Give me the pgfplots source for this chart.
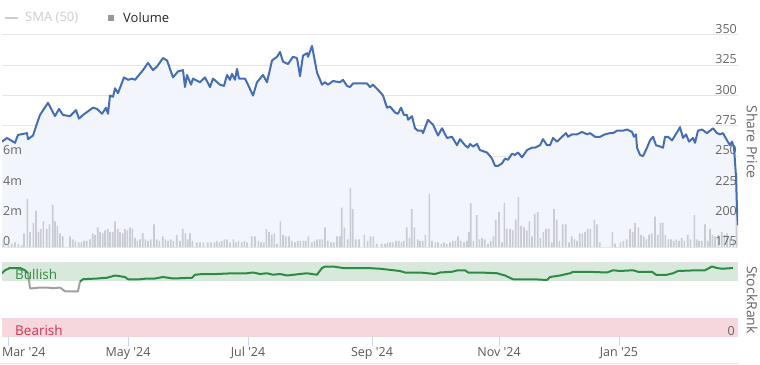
\documentclass[border=0pt]{standalone}
\usepackage{fontspec}
\setmainfont{Open Sans}
\usepackage{pgfplots}
\usepackage{pgfplotstable}
\pgfplotsset{compat=1.18}
\definecolor{priceblue}{RGB}{69,110,180}
\definecolor{pricefill}{RGB}{243,245,252}
\definecolor{gridc}{RGB}{230,230,230}
\definecolor{volc}{RGB}{203,204,211}
\definecolor{rankgreen}{RGB}{46,139,69}
\definecolor{rankgrey}{RGB}{160,160,160}
\definecolor{bullband}{RGB}{214,233,218}
\definecolor{bearband}{RGB}{245,215,221}
\definecolor{beartext}{RGB}{214,50,82}
\definecolor{bulltext}{RGB}{58,138,70}
\definecolor{labc}{RGB}{102,102,102}
\definecolor{smac}{RGB}{204,204,204}
\definecolor{tickc}{RGB}{204,214,235}

% x = horizontal position along the time axis (Mar '24 tick at 8, Jan '25 tick at 619)
\pgfplotstableread{
x p
2 262
7 265
15 261
18 267.5
27 269
28 264
33 267
37 277
40 284
48 294
55 283
59 289
63 284
70 283
76 288
79 281
83 284
93 290
97 289
102 285
106 290
108 285
110 300
113 299
115 306
118 302
124 315
128 313
132 314
135 313
143 321
148 327
153 321
157 324
163 331
167 329
173 315
178 320
183 321
185 307
187 317
191 309
193 314
200 311
205 315
210 307
213 314
220 309
224 308
227 317
230 313
232 318
235 313
237 322
239 314
245 314
248 309
253 300
257 311
263 317
267 311
272 329
277 332
280 336
283 328
288 326
293 332
297 331
300 316
303 333
307 335
308 332
312 341
317 319
322 309
325 311
328 309
333 312
340 311
343 313
347 308
350 307
353 310
360 310
367 310
370 307
373 309
380 303
383 300
387 290
390 291
395 286
398 285
401 290
404 284
407 284
408 280
412 283
415 273
418 271
422 271
423 269
428 280
433 276
438 267
442 273
447 265
452 266
457 259
460 264
465 259
468 257
470 260
473 258
477 260
480 255
487 253
492 248
495 242
498 242
502 244
505 248
508 247
512 252
515 251
518 253
522 249
527 255
532 257
535 257
540 259
543 264
547 259
550 259
553 265
557 262
562 266
566 269
568 266
572 268
577 268
582 270
587 268
590 269
595 266
600 266
605 268
610 269
613 269
617 271
623 271
627 272
632 270
634 266
636 268
637 257
640 251
643 250
647 257
650 263
653 266
656 259
660 258
663 257
665 266
668 266
672 263
675 267
678 271
680 274
683 265
686 268
689 262
693 265
695 261
698 271
702 272
707 269
713 273
717 269
720 268
723 269
727 263
730 259
732 262
734 257
736 233
737 206
738 193
}\pricetable

\pgfplotstableread{
x v
3.5 0.5
8.3 0.2
11.7 0.2
15 0.3
18.3 0.2
21.7 0.1
24 0.9
27.3 3.2
30 1.0
33.3 1.6
36 2.4
38.3 1.0
40.7 1.2
43.3 1.7
46.7 1.2
49.3 1.5
52.7 2.8
55 1.7
57.3 1.4
60 0.9
62.7 0.7
70 0.7
72.7 0.5
75.3 0.4
78.7 0.3
81.3 0.3
84 0.4
86.7 0.4
90 0.5
92.7 0.9
95 0.8
97.7 1.3
100 1.0
102.7 0.9
105 1.1
107.7 1.2
110 1.0
112.7 1.0
115 1.7
117.7 1.2
120 1.0
122.7 0.9
125 1.2
127.3 1.1
130 1.3
132.3 1.2
135 0.6
137.3 0.4
140 0.5
142.7 0.9
145.3 0.5
148 0.4
150.7 0.5
154 1.5
156.7 0.5
159.3 0.4
162.7 0.7
165.3 0.5
168 0.4
170.7 0.5
173.3 0.4
176.7 0.8
180 0.4
182.7 1.2
185.3 0.9
187.7 0.5
190 0.9
192.3 0.4
196.7 0.3
200 0.3
203.3 0.3
207.7 0.3
211 0.3
214.3 0.3
216.7 0.4
219.3 0.3
221.7 0.4
224.3 0.5
227 0.5
230 0.3
233.3 0.5
235.7 0.3
238.3 0.4
241.7 0.3
244.3 0.4
247 0.3
251.7 0.7
255 0.7
258.3 0.4
261 0.3
263.7 0.3
266.3 1.2
269 1.0
271.7 0.8
274.3 0.9
277 0.2
280.3 1.7
283 0.8
285.7 0.7
289 0.7
291.7 0.4
295 0.3
297.7 0.4
300.3 0.4
303.3 0.4
305.7 0.4
308.3 0.7
311.7 0.3
314.3 0.4
317 0.5
319.7 0.5
322.3 0.5
325 1.3
327.7 0.4
331 0.3
333.7 0.3
337 0.7
339.7 0.7
341.7 2.6
344.3 1.3
347.7 0.5
350.3 3.9
352.7 2.5
355.7 0.5
359 0.5
364.3 0.8
367.6 0.4
370.5 0.7
373.3 0.7
376.7 0.2
381.7 0.2
385 0.2
387.3 0.3
390 0.3
392.7 0.3
396 0.4
398.7 0.4
401.3 0.3
403.7 0.4
406.7 1.3
409.3 0.6
411.7 2.5
414.3 1.3
417.7 0.5
420 0.4
422.7 0.4
425.3 0.8
429.3 3.5
432 0.4
435.3 0.3
438 0.3
441.3 0.2
444 0.3
446.7 0.2
450 0.3
452.7 0.4
455.3 0.4
458 0.7
460.7 0.4
464 0.3
466.7 0.4
468.7 1.0
470.7 2.9
473.3 0.4
476.7 2.1
479.3 0.5
482 0.6
484.7 0.5
488 0.2
490.7 0.4
493.3 0.7
495.7 1.8
499 2.3
502 0.3
504.3 2.9
506.7 1.2
510 1.2
512.7 1.1
515.7 1.8
518.3 3.3
521 1.4
524 1.3
526.7 1.1
529.3 1.7
532 0.7
534.7 2.2
537.7 2.3
540.3 0.6
543.3 1.0
546 1.2
548.7 1.2
551.7 0.3
554 2.5
556.7 1.8
559.3 0.4
562.7 1.5
565.7 1.5
569 0.3
571.7 0.7
574.3 0.5
577 0.4
579.7 0.9
582.3 0.9
585 1.0
587.7 1.2
590.3 1.2
594.3 1.8
597 1.5
599.7 0.3
612.3 1.0
615 0.2
620.3 0.3
623.3 0.4
626.7 0.5
630 1.2
632.7 1.0
635 1.6
638.3 1.3
641 0.8
643.7 0.7
646.3 0.5
649 0.8
651.7 0.9
655 2.0
657.7 0.8
660.3 1.6
662.7 1.6
665.3 0.8
668.3 0.5
671 0.5
673.7 0.4
676.3 0.5
679 0.4
681.7 0.6
684.3 0.4
687.7 0.8
690.3 0.5
694.3 2.1
696.7 0.5
699 0.4
701.7 0.4
705 1.5
707.7 0.4
710 1.2
712.3 0.8
715 0.7
718.3 0.8
721.7 1.0
724.3 0.8
727 0.9
730 0.5
733.3 0.4
736.5 4.9
}\voltable

\pgfplotstableread{
x r
2 85
5 89
10 92
20 92
25 89
28 85
}\rankA

\pgfplotstableread{
x r
28 85
30 65
33 65
40 66
47 66
53 65
60 66
65 61
78 61
80 74
}\rankB

\pgfplotstableread{
x r
80 74
83 77
97 78
107 79
115 82
125 80
128 77
140 77
147 78
155 78
163 80
173 78
192 79
195 83
203 84
217 84
233 85
247 85
253 86
260 84
267 85
273 83
280 84
287 82
300 84
307 85
317 83
322 92
325 94
333 94
343 92
350 92
367 92
380 91
400 88
405 86
420 86
435 84
440 86
452 87
458 89
465 89
468 86
480 86
497 85
505 82
513 77
523 77
533 77
547 76
550 80
560 82
570 85
573 87
587 87
607 86
613 89
620 88
633 89
638 87
652 87
656 83
667 83
673 85
678 88
697 89
705 89
712 94
717 92
722 91
733 92
}\rankC

\begin{document}
\begin{tikzpicture}[x=1bp,y=1bp]
\pgfplotsset{
  panel/.style={scale only axis, anchor=south west, xmin=2, xmax=738,
    axis line style={draw=none}, major tick length=0pt,
    /pgf/number format/assume math mode=true,
    ticklabel style={font=\fontsize{12.5bp}{14bp}\selectfont, text=labc}},
}
% price panel: grid + fill
\begin{axis}[panel, at={(2bp,117bp)}, width=736bp, height=212bp,
  ymin=175, ymax=350, xtick=\empty, ytick={175,200,...,350},
  ymajorgrids, grid style={gridc, line width=1bp},
  yticklabels={},
  ]
  \addplot[fill=pricefill, draw=none] table[x=x,y=p]{\pricetable} \closedcycle;
\end{axis}
% volume panel
\begin{axis}[panel, at={(2bp,117bp)}, width=736bp, height=212bp,
  ymin=0, ymax=14, xtick=\empty, ytick={0,2,4,6},
  yticklabels={0,2m,4m,6m}, yticklabel pos=left,
  yticklabel style={anchor=south west, inner sep=1bp},
  ]
  \addplot[ybar, bar width=1.6bp, fill=volc, draw=none] table[x=x,y=v]{\voltable};
\end{axis}
% price line
\begin{axis}[panel, at={(2bp,117bp)}, width=736bp, height=212bp,
  ymin=175, ymax=350, xtick=\empty, ytick={175,200,...,350},
  yticklabel pos=right,
  yticklabel style={anchor=south east, inner sep=1bp},
  ]
  \addplot[priceblue, line width=2bp, line join=round] table[x=x,y=p]{\pricetable};
\end{axis}
% StockRank panel
\begin{axis}[panel, at={(2bp,27bp)}, width=736bp, height=75bp,
  ymin=0, ymax=100, ytick=\empty,
  xtick={8,128,248,372,499,619},
  xticklabels={{\makebox[0pt][l]{\hspace{-6bp}Mar \textquotesingle24}},
    May \textquotesingle24, Jul \textquotesingle24, Sep \textquotesingle24,
    Nov \textquotesingle24, Jan \textquotesingle25},
  xtick pos=bottom, tick align=outside, major tick length=9bp,
  x tick style={draw=tickc, line width=1bp},
  xticklabel style={anchor=north, inner sep=1bp, text=black!65},
  ]
  \fill[bullband] (axis cs:2,75) rectangle (axis cs:738,100);
  \fill[bearband] (axis cs:2,0) rectangle (axis cs:738,25);
  \draw[gridc, line width=1bp] (axis cs:2,100) -- (axis cs:738,100);
  \addplot[rankgreen, line width=2bp, line join=round] table[x=x,y=r]{\rankA};
  \addplot[rankgrey, line width=2bp, line join=round] table[x=x,y=r]{\rankB};
  \addplot[rankgreen, line width=2bp, line join=round] table[x=x,y=r]{\rankC};
\end{axis}
% texts
\node[anchor=south east, inner sep=1bp, text=labc, font=\fontsize{12.5bp}{14bp}\selectfont] at (736,27) {0};
\node[anchor=west, inner sep=0, text=bulltext, font=\fontsize{13.5bp}{15bp}\selectfont] at (15,90) {Bullish};
\node[anchor=west, inner sep=0, text=beartext, font=\fontsize{13.5bp}{15bp}\selectfont] at (15,34) {Bearish};
\node[rotate=-90, inner sep=0, text=labc, font=\fontsize{14bp}{16bp}\selectfont] at (752,222) {Share Price};
\node[rotate=-90, inner sep=0, text=labc, font=\fontsize{14bp}{16bp}\selectfont] at (752,64) {StockRank};
% legend
\draw[smac, line width=1.2bp] (5,346) -- (18,346);
\node[anchor=west, inner sep=0, text=smac, font=\fontsize{13bp}{15bp}\selectfont] at (25,346) {SMA (50)};
\fill[black!40] (108,343) rectangle (114,349);
\node[anchor=west, inner sep=0, text=black!85, font=\fontsize{13bp}{15bp}\selectfont] at (123,346) {Volume};
\draw[gridc, line width=1bp] (0,1) -- (738,1);
\pgfresetboundingbox
\useasboundingbox (0,0) rectangle (760,364);
\end{tikzpicture}
\end{document}
